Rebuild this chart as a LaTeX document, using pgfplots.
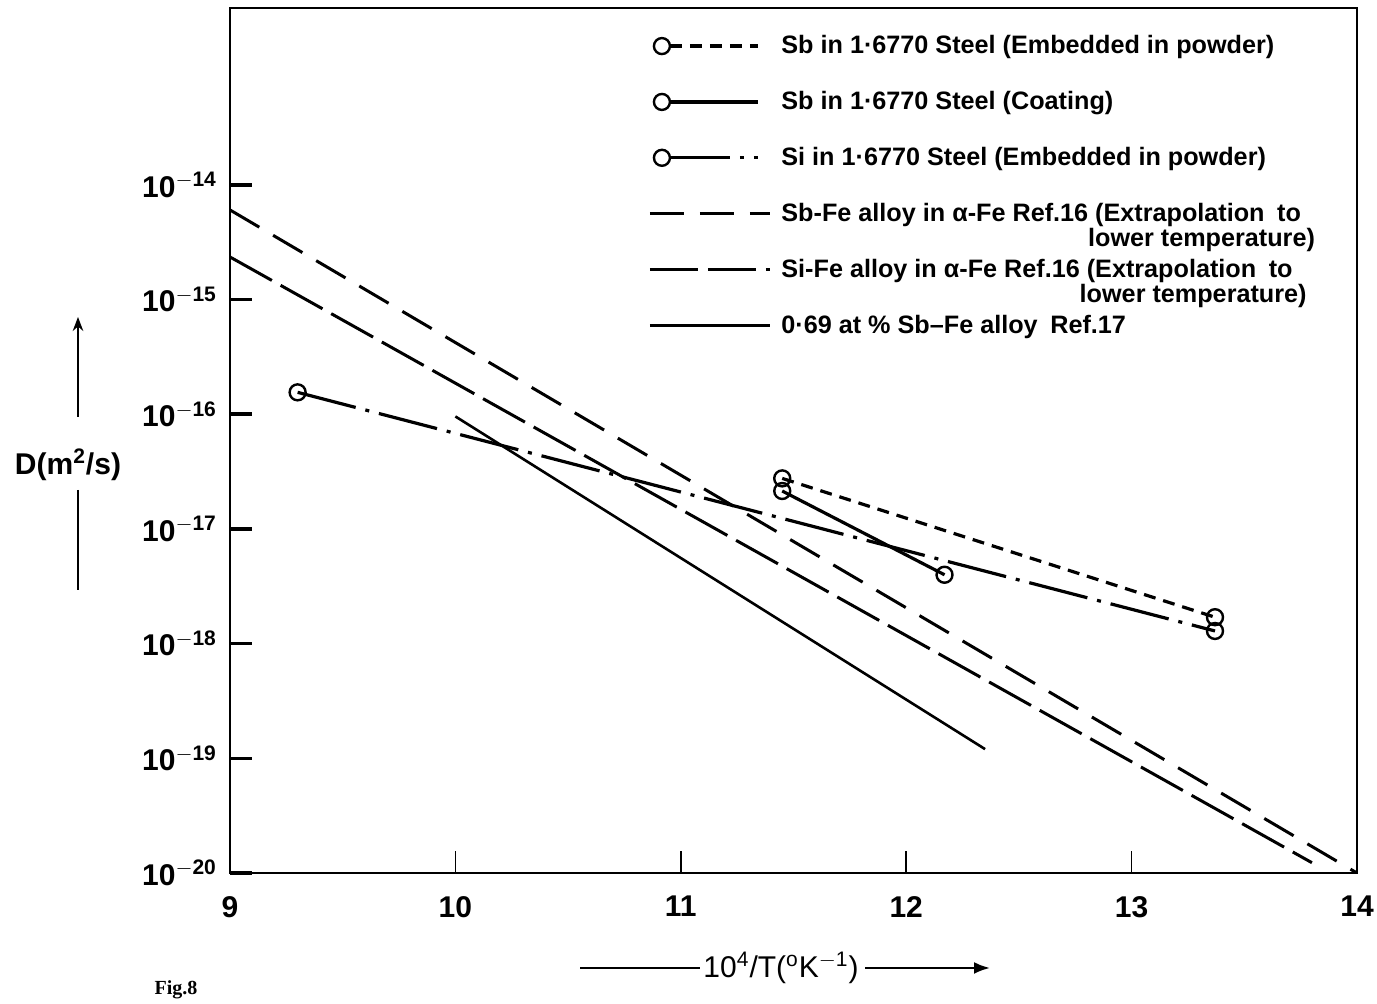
\documentclass[border=0pt]{standalone}
\usepackage{pgfplots}
\pgfplotsset{compat=1.18}
\usepackage{fontspec}
\setmainfont{Liberation Sans}
\newfontfamily\figfont{Liberation Serif}
\usetikzlibrary{arrows.meta}

% legend glyph: circle at the left end, then the line
\pgfplotsset{
  circleleg/.style={legend image code/.code={
      \draw[##1] (4pt,0pt) -- (48pt,0pt);
      \draw[##1] plot coordinates {(0pt,0pt)};}},
  lineleg/.style={legend image code/.code={
      \draw[##1] (-6pt,0pt) -- (54pt,0pt);}},
}

\begin{document}
\begin{tikzpicture}
\useasboundingbox (-115pt,-65.5pt) rectangle (573.5pt,436.5pt);
\begin{axis}[
  at={(0pt,0pt)}, anchor=south west,
  scale only axis, width=563.5pt, height=432.5pt,
  xmin=9, xmax=14,
  ymode=log, ymin=1e-20, ymax=3.47e-13,
  axis line style={line width=1.2pt},
  tick align=inside, tick pos=left,
  xminorticks=false, yminorticks=false,
  xtick={9,10,11,12,13,14},
  ytick={1e-20,1e-19,1e-18,1e-17,1e-16,1e-15,1e-14},
  yticklabels={10\textsuperscript{$-$20},10\textsuperscript{$-$19},10\textsuperscript{$-$18},
    10\textsuperscript{$-$17},10\textsuperscript{$-$16},10\textsuperscript{$-$15},10\textsuperscript{$-$14}},
  major tick length=11pt,
  xtick style={line width=0.8pt, black},
  ytick style={line width=1.8pt, black},
  xticklabel style={font=\bfseries\fontsize{15}{15}\selectfont, yshift=-8pt},
  yticklabel style={font=\bfseries\fontsize{15}{15}\selectfont, xshift=-3pt},
  /pgf/number format/assume math mode=true,
  legend style={draw=none, fill=none, at={(0.3656,0.978)}, anchor=north west,
    font=\bfseries\fontsize{12.6}{15}\selectfont, row sep=13.3pt, column sep=3pt},
  legend cell align=left,
]
% Sb in 1.6770 steel, embedded in powder
\addplot[black, line width=1.6pt, dash pattern=on 6pt off 4pt, mark=o,
  mark size=4pt, mark options={solid, fill=white, line width=1.2pt}, circleleg]
  coordinates {(11.45,2.754e-17) (13.37,1.698e-18)};
\addlegendentry{Sb in 1·6770 Steel (Embedded in powder)}
% Sb in 1.6770 steel, coating
\addplot[black, line width=1.6pt, mark=o,
  mark size=4pt, mark options={solid, fill=white, line width=1.2pt}, circleleg]
  coordinates {(11.45,2.138e-17) (12.17,3.981e-18)};
\addlegendentry{Sb in 1·6770 Steel (Coating)}
% Si in 1.6770 steel, embedded in powder
\addplot[black, line width=1.6pt, dash pattern=on 30pt off 5pt on 2pt off 5pt, mark=o,
  mark size=4pt, mark options={solid, fill=white, line width=1.2pt}, circleleg]
  coordinates {(9.30,1.549e-16) (13.37,1.288e-18)};
\addlegendentry{Si in 1·6770 Steel (Embedded in powder)}
% Sb-Fe alloy, Ref. 16
\addplot[black, line width=1.5pt, dash pattern=on 17pt off 8pt, lineleg]
  coordinates {(9,6.026e-15) (14,1e-20)};
\addlegendentry{Sb-Fe alloy in α-Fe Ref.16 (Extrapolation\enspace to\smash{\llap{\raisebox{-12.5pt}{lower temperature)\kern-7pt}}}}
% Si-Fe alloy, Ref. 16
\addplot[black, line width=1.5pt, dash pattern=on 24pt off 5pt, lineleg]
  coordinates {(9,2.344e-15) (13.80,1.23e-20)};
\addlegendentry{Si-Fe alloy in α-Fe Ref.16 (Extrapolation\enspace to\smash{\llap{\raisebox{-12.5pt}{lower temperature)\kern-7pt}}}}
% 0.69 at% Sb-Fe alloy, Ref. 17
\addplot[black, line width=1.3pt, lineleg]
  coordinates {(10.0,9.55e-17) (12.35,1.202e-19)};
\addlegendentry{0·69 at \% Sb--Fe alloy\enspace Ref.17}
\end{axis}
% axis titles
\node[font=\bfseries\fontsize{15}{15}\selectfont] at (-81pt,204pt) {D(m\textsuperscript{2}/s)};
\draw[line width=1pt, -{Stealth[length=7pt]}] (-76pt,228pt) -- (-76pt,278pt);
\draw[line width=1pt] (-76pt,191.5pt) -- (-76pt,141.5pt);
\draw[line width=1.2pt] (175pt,-47.5pt) -- (235pt,-47.5pt);
\node[font=\fontsize{15}{15}\selectfont] at (275.5pt,-47.5pt) {10\textsuperscript{4}/T(\textsuperscript{o}K\textsuperscript{$-$1})};
\draw[line width=1.2pt, -{Latex[length=8pt]}] (317.5pt,-47.5pt) -- (380pt,-47.5pt);
\node[font=\figfont\bfseries\fontsize{10}{10}\selectfont] at (-27pt,-58.5pt) {Fig.8};
\end{tikzpicture}
\end{document}
